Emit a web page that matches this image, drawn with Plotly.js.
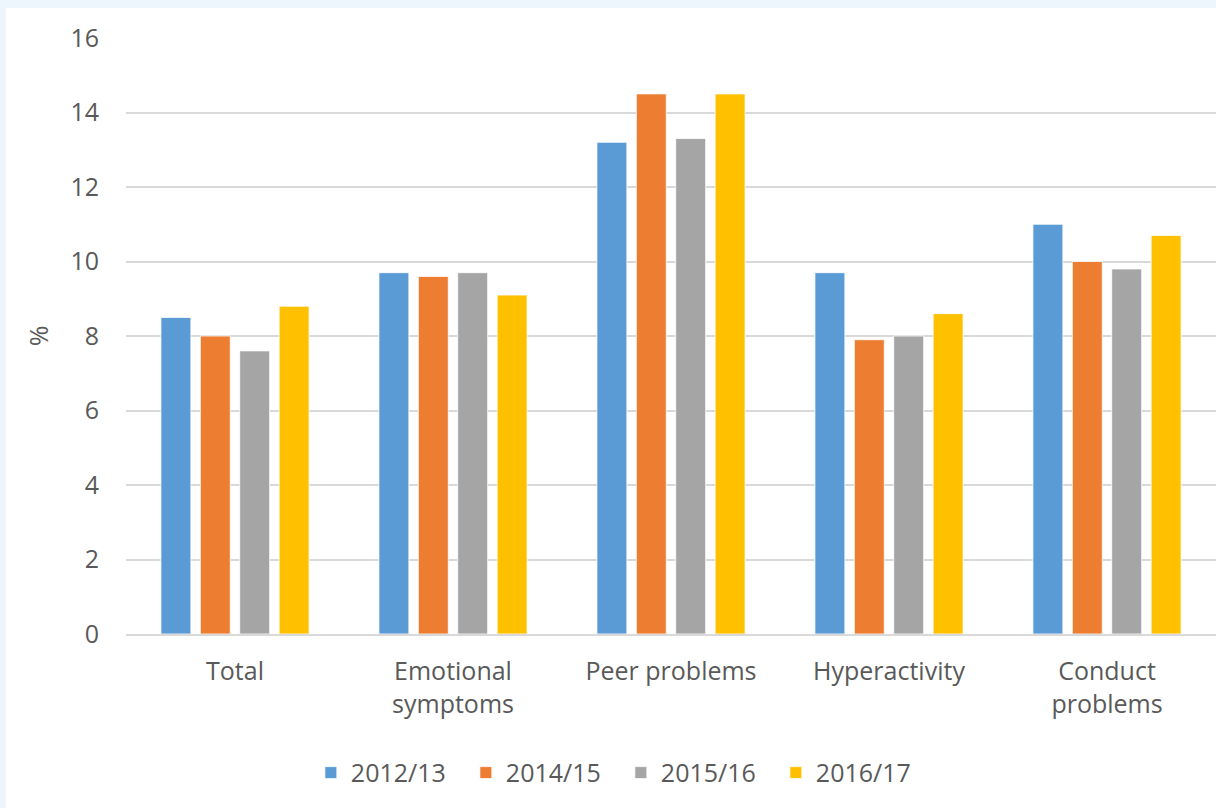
<!DOCTYPE html>
<html>
<head>
<meta charset="utf-8">
<script src="https://cdn.plot.ly/plotly-3.0.1.min.js"></script>
<style>
html,body{margin:0;padding:0;background:#eef6fd;width:1216px;height:808px;overflow:hidden;}
#chart{position:absolute;left:6px;top:8px;width:1210px;height:800px;background:#fff;}
</style>
</head>
<body>
<div id="chart"></div>
<script>
const categories = ["Total", "Emotional<br>symptoms", "Peer problems", "Hyperactivity", "Conduct<br>problems"];
const seriesNames = ["2012/13", "2014/15", "2015/16", "2016/17"];
const v2012 = [8.5, 9.7, 13.2, 9.7, 11.0];
const v2014 = [8.0, 9.6, 14.5, 7.9, 10.0];
const v2015 = [7.6, 9.7, 13.3, 8.0, 9.8];
const v2016 = [8.8, 9.1, 14.5, 8.6, 10.7];
const colors = ["#5b9bd5", "#ed7d31", "#a5a5a5", "#ffc000"];
const yTicks = [0, 2, 4, 6, 8, 10, 12, 14, 16];

const values = [v2012, v2014, v2015, v2016];
const FONT = "'Open Sans', 'Noto Sans', sans-serif";
const data = values.map((v, i) => ({
  type: "bar",
  name: seriesNames[i],
  x: categories,
  y: v,
  marker: {color: colors[i], line: {color: "rgba(255,255,255,0.8)", width: 1}},
  hoverinfo: "x+y+name"
}));

const layout = {
  width: 1210,
  height: 800,
  paper_bgcolor: "#ffffff",
  plot_bgcolor: "#ffffff",
  margin: {l: 120, r: 0, t: 30, b: 174},
  barmode: "group",
  bargap: 0.277,
  bargroupgap: 0.24,
  font: {family: FONT, size: 25, color: "#595959"},
  xaxis: {
    type: "category",
    showgrid: false,
    showline: true,
    linecolor: "#d9d9d9",
    linewidth: 2,
    ticks: "",
    tickfont: {family: FONT, size: 25, color: "#595959"},
    ticklabelstandoff: 14,
    fixedrange: true
  },
  yaxis: {
    range: [0, 16],
    tickvals: yTicks,
    ticktext: yTicks.map(String),
    showgrid: true,
    gridcolor: "#d9d9d9",
    gridwidth: 2,
    zeroline: false,
    showline: false,
    ticks: "",
    ticklabelstandoff: 26,
    tickfont: {family: FONT, size: 25, color: "#595959"},
    title: {text: "%", font: {family: FONT, size: 25, color: "#595959"}, standoff: 14},
    fixedrange: true
  },
  legend: {
    orientation: "h",
    x: 0.454,
    xanchor: "center",
    y: -0.233,
    yanchor: "middle",
    font: {family: FONT, size: 25, color: "#595959"},
    itemwidth: 30,
    entrywidth: 110,
    traceorder: "normal",
    bgcolor: "rgba(0,0,0,0)"
  },
  showlegend: true
};

Plotly.newPlot("chart", data, layout, {displayModeBar: false, staticPlot: true});
</script>
</body>
</html>
